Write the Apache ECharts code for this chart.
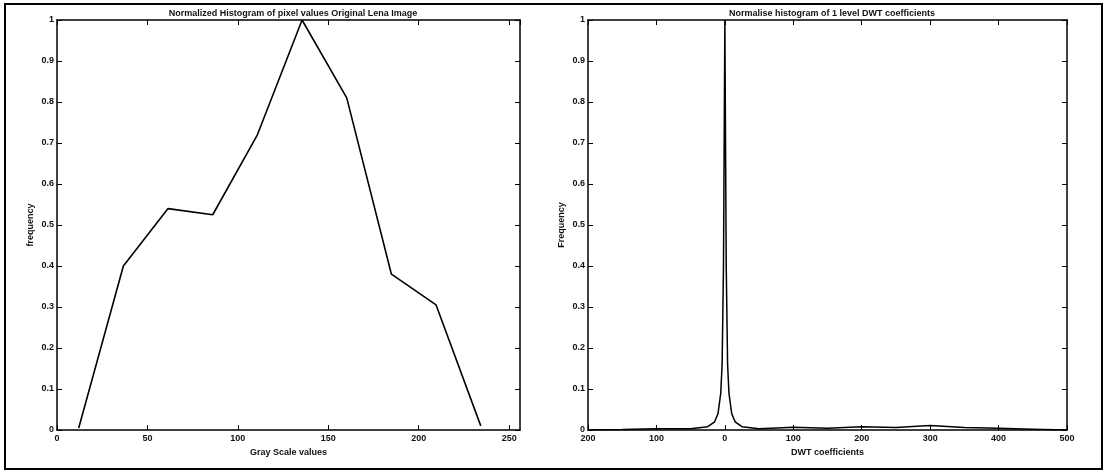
<!DOCTYPE html>
<html>
<head>
<meta charset="utf-8">
<script src="https://cdn.jsdelivr.net/npm/echarts@6/dist/echarts.min.js"></script>
<style>
  html, body { margin: 0; padding: 0; background: #fff; }
  #chart { width: 1106px; height: 471px; }
</style>
</head>
<body>
<div id="chart"></div>
<script>
  // left: normalised histogram of grey levels
  var grayX = [12, 36.7, 61.4, 86.1, 110.8, 135.5, 160.2, 184.9, 209.6, 234.3];
  var grayFreq = [0.005, 0.4, 0.54, 0.525, 0.72, 1.0, 0.81, 0.38, 0.305, 0.01];

  // right: normalised histogram of 1 level DWT coefficients
  var dwtX = [-200, -150, -100, -50, -25, -15, -10, -6, -4, -2, 0, 2, 4, 6, 10, 15, 25, 50, 100, 150, 200, 250, 300, 350, 400, 450, 500];
  var dwtFreq = [0, 0.001, 0.003, 0.003, 0.008, 0.02, 0.04, 0.09, 0.16, 0.4, 1.0, 0.4, 0.16, 0.09, 0.04, 0.02, 0.008, 0.003, 0.007, 0.004, 0.008, 0.006, 0.011, 0.006, 0.004, 0.002, 0];

  var yTicks = { min: 0, max: 1, interval: 0.1 };

  var font = 'Liberation Sans';
  var txt = { fontFamily: font, fontSize: 9, fontWeight: 'bold', color: '#111' };

  function pairs(xs, ys) {
    return xs.map(function (x, i) { return [x, ys[i]]; });
  }

  function xAx(idx, min, max, step, name, fmt) {
    return [
      {
        type: 'value', gridIndex: idx, min: min, max: max, interval: step,
        name: name, nameLocation: 'middle', nameGap: 17,
        nameTextStyle: txt,
        axisLine: { show: true, onZero: false, lineStyle: { color: '#000', width: 1.5 } },
        axisTick: { show: true, inside: true, length: 5, lineStyle: { color: '#000' } },
        axisLabel: Object.assign({ margin: 4, formatter: fmt }, txt),
        splitLine: { show: false }
      },
      {
        type: 'value', gridIndex: idx, position: 'top', min: min, max: max, interval: step,
        axisLine: { show: true, onZero: false, lineStyle: { color: '#000', width: 1.5 } },
        axisTick: { show: true, inside: true, length: 5, lineStyle: { color: '#000' } },
        axisLabel: { show: false },
        splitLine: { show: false }
      }
    ];
  }

  function yAx(idx, name) {
    return [
      {
        type: 'value', gridIndex: idx, min: yTicks.min, max: yTicks.max, interval: yTicks.interval,
        name: name, nameLocation: 'middle', nameGap: 22, nameRotate: 90,
        nameTextStyle: txt,
        axisLine: { show: true, onZero: false, lineStyle: { color: '#000', width: 1.5 } },
        axisTick: { show: true, inside: true, length: 5, lineStyle: { color: '#000' } },
        axisLabel: Object.assign({ margin: 3, formatter: function (v) { return String(+v.toFixed(1)); } }, txt),
        splitLine: { show: false }
      },
      {
        type: 'value', gridIndex: idx, position: 'right', min: yTicks.min, max: yTicks.max, interval: yTicks.interval,
        axisLine: { show: true, onZero: false, lineStyle: { color: '#000', width: 1.5 } },
        axisTick: { show: true, inside: true, length: 5, lineStyle: { color: '#000' } },
        axisLabel: { show: false },
        splitLine: { show: false }
      }
    ];
  }

  var chart = echarts.init(document.getElementById('chart'), null, { renderer: 'canvas' });
  chart.setOption({
    backgroundColor: '#fff',
    animation: false,
    title: [
      { text: 'Normalized Histogram of pixel values Original Lena Image', left: 288, top: 4, textAlign: 'center',
        textStyle: { fontFamily: font, fontSize: 9, fontWeight: 'bold', color: '#111' } },
      { text: 'Normalise histogram of 1 level DWT coefficients', left: 827, top: 4, textAlign: 'center',
        textStyle: { fontFamily: font, fontSize: 9, fontWeight: 'bold', color: '#111' } }
    ],
    graphic: [
      { type: 'rect', shape: { x: 5, y: 4, width: 1097, height: 465 },
        style: { fill: 'none', stroke: '#000', lineWidth: 2 }, silent: true }
    ],
    grid: [
      { left: 57, top: 20, width: 463, height: 410 },
      { left: 588, top: 20, width: 479, height: 410 }
    ],
    xAxis: []
      .concat(xAx(0, 0, 256, 50, 'Gray Scale values', function (v) { return String(v); }))
      .concat(xAx(1, -200, 500, 100, 'DWT coefficients', function (v) { return String(Math.abs(v)); })),
    yAxis: []
      .concat(yAx(0, 'frequency'))
      .concat(yAx(1, 'Frequency')),
    series: [
      { type: 'line', xAxisIndex: 0, yAxisIndex: 0, data: pairs(grayX, grayFreq),
        showSymbol: false, lineStyle: { color: '#000', width: 1.6 } },
      { type: 'line', xAxisIndex: 2, yAxisIndex: 2, data: pairs(dwtX, dwtFreq),
        showSymbol: false, lineStyle: { color: '#000', width: 1.5 } }
    ]
  });
</script>
</body>
</html>
